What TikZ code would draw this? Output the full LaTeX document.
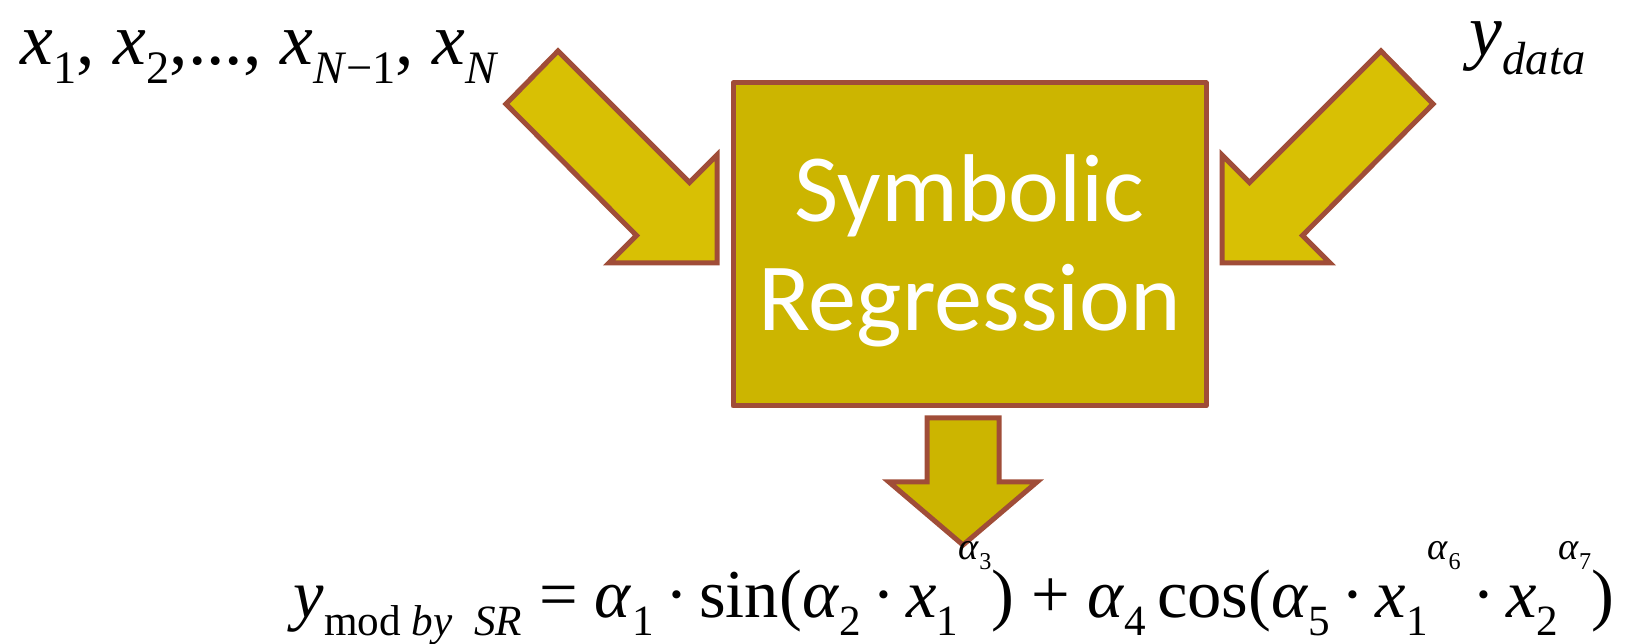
\documentclass[tikz,border=0pt]{standalone}
\usepackage{fontspec}
\usepackage{graphicx}
\setmainfont{Liberation Serif}
\newfontfamily\calibri{Carlito}
\definecolor{edgered}{RGB}{160,77,56}
\definecolor{arrowgold}{RGB}{216,192,4}
\definecolor{boxgold}{RGB}{204,181,0}
% lowered and raised small text
\newcommand\lowtxt[1]{\raisebox{-0.25em}{\scalebox{0.63}{#1}}}
\newcommand\hightxt[1]{\raisebox{0.85em}{\scalebox{0.56}{#1}}}
\begin{document}
\begin{tikzpicture}[x=0.1mm,y=-0.1mm,
  fatarrow/.style={draw=edgered,fill=arrowgold,line width=0.5mm},
  srbox/.style={draw=edgered,fill=boxgold,line width=0.5mm,line join=round},
  mathtxt/.style={inner sep=0,font=\fontsize{21}{25}\selectfont}]
\useasboundingbox (0,0) rectangle (1626,644);
% inputs
\draw[fatarrow] (506,104) -- (636.5,235.5) -- (609,263) -- (717,263) -- (717,155) -- (689.5,182.5) -- (558,51) -- cycle;
\draw[fatarrow] (1433,104) -- (1302.5,235.5) -- (1330,263) -- (1222,263) -- (1222,155) -- (1249.5,182.5) -- (1381,51) -- cycle;
% box
\draw[srbox] (733,83) rectangle (1206,406);
\node[text=white,font=\calibri\fontsize{27.4}{31.2}\selectfont,align=center] (sr) at (969.5,251) {Symbolic\\Regression};
% output
\draw[fatarrow,fill=boxgold] (927,418) -- (999,418) -- (999,482) -- (1037,482) -- (963,545) -- (889,482) -- (927,482) -- cycle;
\node[mathtxt,anchor=base west] (xs) at (20,65)
  {\textit{x}\lowtxt{1}, \textit{x}\lowtxt{2},..., \textit{x}\lowtxt{\textit{N}−1}, \textit{x}\lowtxt{\textit{N}}};
\node[mathtxt,anchor=base east] (yd) at (1586,56) {\textit{y}\lowtxt{\textit{data}}};
\node[mathtxt,font=\fontsize{19.5}{23}\selectfont,anchor=base west] (fm) at (293,618)
  {\textit{y}\lowtxt{mod \textit{by}\ \ \textit{SR}} = \textit{α}\lowtxt{1}\,·\,sin(\textit{α}\lowtxt{2}\,·\,\textit{x}\lowtxt{1}\hightxt{\textit{α}\lowtxt{3}}) + \textit{α}\lowtxt{4}\,cos(\textit{α}\lowtxt{5}\,·\,\textit{x}\lowtxt{1}\hightxt{\textit{α}\lowtxt{6}}\,·\,\textit{x}\lowtxt{2}\hightxt{\textit{α}\lowtxt{7}})};
\end{tikzpicture}
\end{document}
